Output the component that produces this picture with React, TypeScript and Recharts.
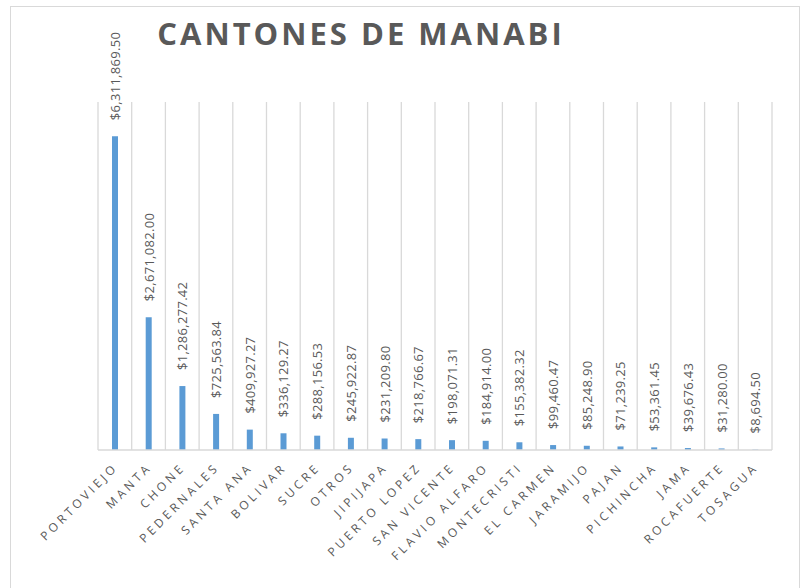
import React from "react";
import { Bar, BarChart, CartesianGrid, LabelList, XAxis, YAxis } from "recharts";

const cantones = [
  "PORTOVIEJO", "MANTA", "CHONE", "PEDERNALES", "SANTA ANA", "BOLIVAR", "SUCRE", "OTROS",
  "JIPIJAPA", "PUERTO LOPEZ", "SAN VICENTE", "FLAVIO ALFARO", "MONTECRISTI", "EL CARMEN",
  "JARAMIJO", "PAJAN", "PICHINCHA", "JAMA", "ROCAFUERTE", "TOSAGUA"
];
const montos = [
  6311869.5, 2671082.0, 1286277.42, 725563.84, 409927.27, 336129.27, 288156.53, 245922.87,
  231209.8, 218766.67, 198071.31, 184914.0, 155382.32, 99460.47, 85248.9, 71239.25,
  53361.45, 39676.43, 31280.0, 8694.5
];

const data = cantones.map((name, i) => ({ name, value: montos[i] }));

const fmt = (v: number) =>
  "$" + v.toLocaleString("en-US", { minimumFractionDigits: 2, maximumFractionDigits: 2 });

const FONT = "'Open Sans', 'Liberation Sans', sans-serif";
const GRAY = "#595959";

function ValueLabel(props: any) {
  const { x, y, width, value } = props;
  const cx = Number(x) + Number(width) / 2;
  const ty = Number(y) - 16;
  return (
    <text
      x={cx}
      y={ty}
      transform={`rotate(-90 ${cx} ${ty})`}
      textAnchor="start"
      dominantBaseline="central"
      fontSize={13}
      fill={GRAY}
      fontFamily={FONT}
      letterSpacing={0.3}
    >
      {fmt(Number(value))}
    </text>
  );
}

function CatTick(props: any) {
  const { x, y, payload } = props;
  const tx = x + 4;
  const ty = y + 10;
  return (
    <text
      x={tx}
      y={ty}
      transform={`rotate(-45 ${tx} ${ty})`}
      textAnchor="end"
      fontSize={12}
      fill={GRAY}
      fontFamily={FONT}
      letterSpacing={3.4}
    >
      {payload.value}
    </text>
  );
}

export default function App() {
  return (
    <div style={{ position: "fixed", left: 0, top: 0, width: 802, height: 588, background: "#fff" }}>
      <div style={{ position: "absolute", left: 0, top: 0 }}>
        <BarChart width={802} height={588} data={data} margin={{ top: 102, right: 30, left: 98, bottom: 0 }}>
          <text
            x={361}
            y={45}
            textAnchor="middle"
            fontSize={31}
            fontWeight={700}
            fill={GRAY}
            fontFamily={FONT}
            letterSpacing={3}
          >
            CANTONES DE MANABI
          </text>
          <CartesianGrid
            horizontal={false}
            stroke="#d9d9d9"
            strokeWidth={1.3}
            verticalCoordinatesGenerator={({ offset }: any) =>
              Array.from({ length: cantones.length + 1 }, (_, i) => offset.left + (i * offset.width) / cantones.length)
            }
          />
          <XAxis
            dataKey="name"
            interval={0}
            tick={<CatTick />}
            tickLine={false}
            axisLine={{ stroke: "#d9d9d9", strokeWidth: 1.5 }}
            height={138}
          />
          <YAxis hide domain={[0, 7000000]} />
          <Bar dataKey="value" fill="#5B9BD5" barSize={6} isAnimationActive={false}>
            <LabelList dataKey="value" content={<ValueLabel />} />
          </Bar>
        </BarChart>
      </div>
      <div
        style={{
          position: "absolute",
          left: 10,
          top: 6,
          width: 790,
          height: 600,
          border: "1.5px solid #d9d9d9",
          boxSizing: "border-box",
          pointerEvents: "none"
        }}
      />
    </div>
  );
}
